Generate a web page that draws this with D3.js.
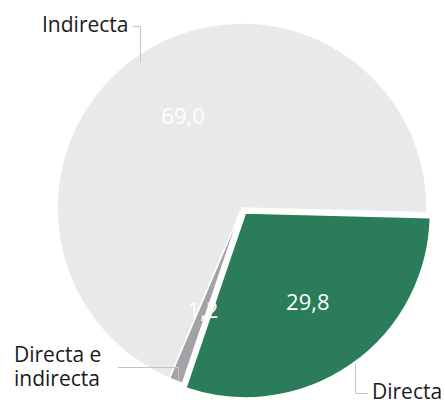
<!DOCTYPE html>
<html><head><meta charset="utf-8">
<script src="https://cdn.jsdelivr.net/npm/d3@7"></script>
<style>html,body{margin:0;padding:0;background:#fff;}svg{display:block;font-family:"Open Sans",sans-serif;}</style>
</head><body>
<script>
const categories = ["Directa", "Directa e indirecta", "Indirecta"];
const values = [29.8, 1.2, 69.0];
const valueLabels = ["29,8", "1,2", "69,0"];
const colors = ["#2a7c5a", "#a3a3a7", "#e9e9eb"];

const W = 445, H = 403;
const cx = 242, cy = 208, R = 185;
const start = 1.597;

const svg = d3.select("body").append("svg").attr("width", W).attr("height", H);
const g = svg.append("g").attr("transform", `translate(${cx},${cy})`);

const data = categories.map((c, i) => ({cat: c, value: values[i], label: valueLabels[i], color: colors[i], explode: i === 0 ? 6 : 0}));
const pie = d3.pie().sort(null).value(d => d.value).startAngle(start).endAngle(start + 2 * Math.PI);
const arcs = pie(data);
const arc = d3.arc().innerRadius(0).outerRadius(R);
const labelArc = d3.arc().innerRadius(R * 0.59).outerRadius(R * 0.59);

function offset(d) {
  const m = (d.startAngle + d.endAngle) / 2;
  return [Math.sin(m) * d.data.explode, -Math.cos(m) * d.data.explode];
}

g.selectAll("path.slice").data(arcs).join("path").attr("class", "slice")
  .attr("transform", d => { const o = offset(d); return `translate(${o[0]},${o[1]})`; })
  .attr("d", arc).attr("fill", d => d.data.color)
  .attr("stroke", "#fff").attr("stroke-width", 1.5).attr("stroke-linejoin", "round");

g.selectAll("text.val").data(arcs).join("text").attr("class", "val")
  .attr("transform", d => { const c = labelArc.centroid(d), o = offset(d); return `translate(${c[0] + o[0]},${c[1] + o[1]})`; })
  .attr("text-anchor", "middle").attr("dy", "0.36em")
  .attr("fill", "#fff").attr("font-size", 22)
  .text(d => d.data.label);

// leader lines and category labels
const lineColor = "#c4c4c4";
const ann = svg.append("g");
// Indirecta
ann.append("path").attr("d", "M133,26.5H140.5V62").attr("fill", "none").attr("stroke", lineColor).attr("stroke-width", 1);
ann.append("text").attr("x", 42).attr("y", 32).attr("font-size", 21).attr("fill", "#1a1a1a").text(categories[2]);
// Directa e indirecta
ann.append("path").attr("d", "M118,367.5H178.5V381").attr("fill", "none").attr("stroke", lineColor).attr("stroke-width", 1);
ann.append("text").attr("x", 14).attr("y", 362).attr("font-size", 21).attr("fill", "#1a1a1a").text("Directa e");
ann.append("text").attr("x", 14).attr("y", 386).attr("font-size", 21).attr("fill", "#1a1a1a").text("indirecta");
// Directa
ann.append("path").attr("d", "M355.5,364V393.5H368").attr("fill", "none").attr("stroke", lineColor).attr("stroke-width", 1);
ann.append("text").attr("x", 372).attr("y", 399).attr("font-size", 21).attr("fill", "#1a1a1a").text(categories[0]);
</script>
</body></html>
